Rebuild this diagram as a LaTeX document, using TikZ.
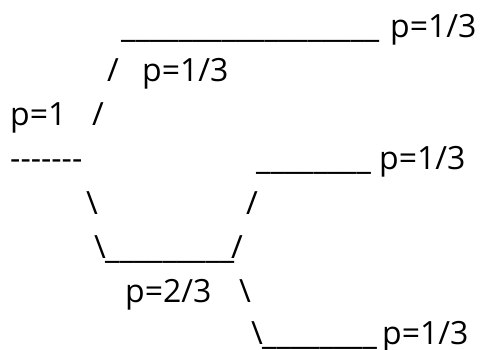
\documentclass[tikz,border=0pt]{standalone}
\usepackage{fontspec}
\setmainfont{Open Sans}
\usepackage{tikz}
\tikzstyle{asc} = [anchor=base west, inner sep=0pt, font=\fontsize{32}{38}\selectfont]
\newcommand{\underrun}[1]{\foreach \k in {1,...,#1}{\_}}
\newcommand{\dashrun}[1]{\foreach \k in {1,...,#1}{-\kern0pt}}
\begin{document}
\begin{tikzpicture}[x=1pt,y=-1pt]
\useasboundingbox (0,0) rectangle (482,350);
% row 1
\node[asc] (topbar) at (121,38) {\underrun{18}};
\node[asc] (topp) at (390,38) {p=1/3};
% row 2
\node[asc] (upa) at (107,82) {/};
\node[asc] (upp) at (142,82) {p=1/3};
% row 3
\node[asc] (root) at (10,126) {p=1};
\node[asc] (upb) at (92,126) {/};
% row 4
\node[asc] (dash) at (10,170) {\dashrun{7}};
\node[asc] (midbar) at (256,170) {\underrun{8}};
\node[asc] (midp) at (379,170) {p=1/3};
% row 5
\node[asc] (downa) at (86,214) {\textbackslash};
\node[asc] (upc) at (246,214) {/};
% row 6
\node[asc] (downb) at (94,258) {\textbackslash};
\node[asc] (lowbar) at (105,258) {\underrun{9}};
\node[asc] (upd) at (231,258) {/};
% row 7
\node[asc] (lowp) at (125,302) {p=2/3};
\node[asc] (downc) at (239,302) {\textbackslash};
% row 8
\node[asc] (downd) at (251,344) {\textbackslash};
\node[asc] (botbar) at (262,344) {\underrun{8}};
\node[asc] (botp) at (382,344) {p=1/3};
\end{tikzpicture}
\end{document}
